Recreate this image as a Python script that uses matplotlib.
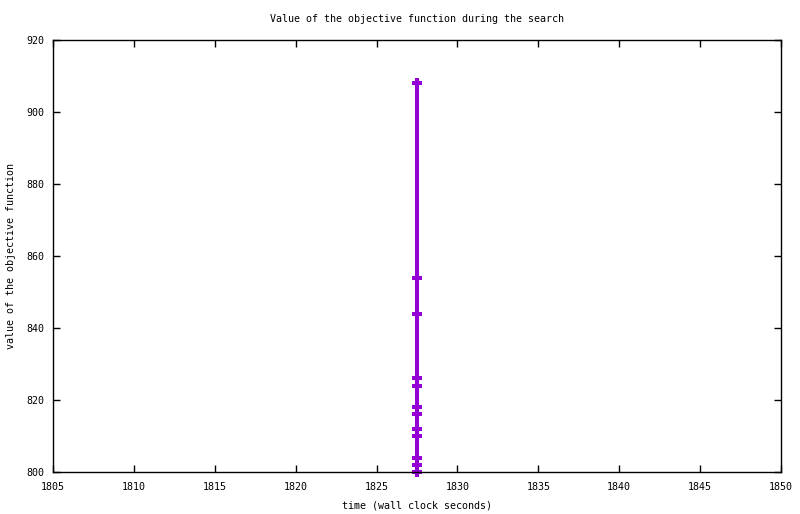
import matplotlib
matplotlib.use("Agg")
import matplotlib.pyplot as plt

time_s = [1827.5] * 12
objective = [908, 854, 844, 826, 824, 818, 816, 812, 810, 804, 802, 800]
xticks = [1805, 1810, 1815, 1820, 1825, 1830, 1835, 1840, 1845, 1850]
yticks = [800, 820, 840, 860, 880, 900, 920]

plt.rcParams['font.family'] = ['DejaVu Sans Mono']
fs = 7.2

fig = plt.figure(figsize=(8.0, 5.14), dpi=100)
ax = fig.add_axes([53/800, 42/514, 728/800, 432/514])
ax.plot(time_s, objective, color='#9400D3', linewidth=2.9, marker='+',
        markersize=7.5, markeredgewidth=2.9, solid_capstyle='butt', clip_on=False)
ax.set_xlim(1805, 1850)
ax.set_ylim(800, 920)
ax.set_xticks(xticks)
ax.set_yticks(yticks)
ax.tick_params(direction='in', length=5, width=1, top=True, right=True,
               labelsize=fs)
ax.tick_params(axis='x', pad=7)
ax.tick_params(axis='y', pad=6)
for s in ax.spines.values():
    s.set_linewidth(1)
ax.set_title('Value of the objective function during the search', fontsize=fs, pad=13)
ax.set_xlabel('time (wall clock seconds)', fontsize=fs, labelpad=6)
ax.set_ylabel('value of the objective function', fontsize=fs, labelpad=7.5)
fig.savefig('out.png', dpi=100)
